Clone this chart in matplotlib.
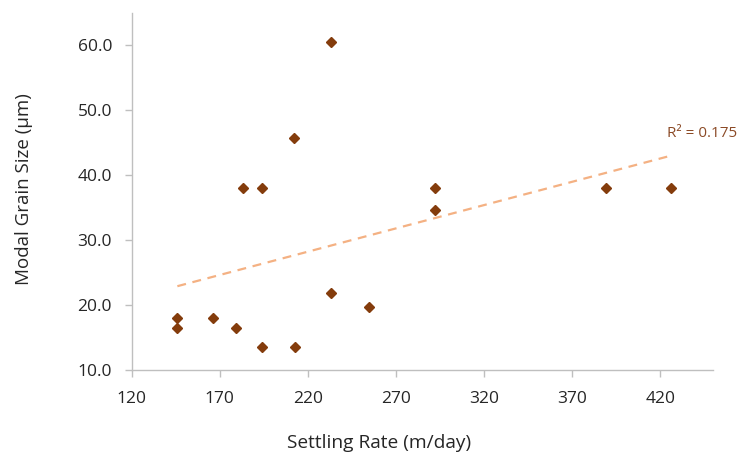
import numpy as np
import matplotlib
matplotlib.use('Agg')
import matplotlib.pyplot as plt

# settling rate (m/day) vs modal grain size (um)
settling_rate = [233, 212, 183, 194, 292, 292, 389, 426,
                 146, 146, 166, 179, 194, 213, 233, 255]
grain_size = [60.5, 45.7, 38.0, 38.0, 38.0, 34.6, 38.0, 38.0,
              18.0, 16.4, 18.0, 16.4, 13.5, 13.5, 21.8, 19.7]
x_ticks = [120, 170, 220, 270, 320, 370, 420]
y_ticks = [10, 20, 30, 40, 50, 60]

marker_color = '#843C0C'
trend_color = '#F4B183'
axis_color = '#BFBFBF'
text_color = '#262626'

x = np.array(settling_rate, dtype=float)
y = np.array(grain_size, dtype=float)
slope, intercept = np.polyfit(x, y, 1)
y_fit = slope * x + intercept
r2 = 1 - ((y - y_fit)**2).sum() / ((y - y.mean())**2).sum()

fig = plt.figure(figsize=(7.39, 4.54), dpi=100)
ax = fig.add_axes([0.178, 0.185, 0.787, 0.787])

xx = np.array([x.min(), x.max()])
ax.plot(xx, slope * xx + intercept, ls=(0, (4, 3)), color=trend_color, lw=1.6, zorder=2)
ax.plot(x, y, ls='none', marker='D', ms=5.5, color=marker_color, zorder=3)

ax.set_xlim(120, 450)
ax.set_ylim(10, 65)
ax.set_xticks(x_ticks)
ax.set_yticks(y_ticks)
ax.set_yticklabels([f'{v:.1f}' for v in y_ticks])

for s in ('top', 'right'):
    ax.spines[s].set_visible(False)
for s in ('left', 'bottom'):
    ax.spines[s].set_color(axis_color)
    ax.spines[s].set_linewidth(1.0)
ax.tick_params(direction='out', length=5, width=1, color=axis_color,
               labelsize=12.5, labelcolor=text_color)
ax.tick_params(axis='y', pad=9)
ax.tick_params(axis='x', pad=10)
for lab in ax.get_xticklabels() + ax.get_yticklabels():
    lab.set_fontfamily('Open Sans')

fig.text(0.032, 0.583, 'Modal Grain Size (µm)', rotation=90, ha='center', va='center',
         fontsize=13.5, color=text_color, family='Open Sans')
fig.text(0.513, 0.004, 'Settling Rate (m/day)', ha='center', va='bottom',
         fontsize=13.8, color=text_color, family='Open Sans')
fig.text(0.902, 0.698, f'R² = {r2:.3f}', ha='left', va='baseline',
         fontsize=11, color='#8B4A26', family='Open Sans')

fig.savefig('out.png', dpi=100)
